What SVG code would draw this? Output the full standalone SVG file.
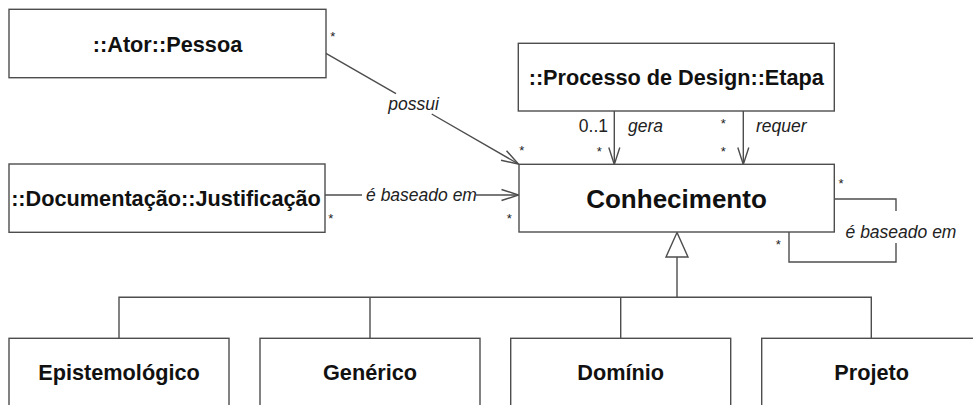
<svg xmlns="http://www.w3.org/2000/svg" width="973" height="405" viewBox="0 0 973 405">
  <style>
    .box { fill: #ffffff; stroke: #4d4d4d; stroke-width: 1.4; }
    .name { font-family: "Liberation Sans", Arial, sans-serif; font-weight: bold; font-size: 21.7px; fill: #111111; text-anchor: middle; }
    .big { font-size: 26px; }
    .edge { fill: none; stroke: #4d4d4d; stroke-width: 1.4; }
    .lbl { font-family: "Liberation Sans", Arial, sans-serif; font-style: italic; font-size: 17.5px; fill: #222222; }
    .mult { font-family: "Liberation Sans", Arial, sans-serif; font-size: 17.5px; fill: #222222; }
    .star { font-family: "Liberation Sans", Arial, sans-serif; font-size: 13px; fill: #222222; text-anchor: middle; }
  </style>
  <defs>
    <marker id="open" markerUnits="userSpaceOnUse" markerWidth="20" markerHeight="14" refX="0" refY="0" viewBox="-18 -7 20 14" orient="auto">
      <path d="M -17 -5.5 L 0 0 L -17 5.5" fill="none" stroke="#4d4d4d" stroke-width="1.4"/>
    </marker>
  </defs>

  <rect width="973" height="405" fill="#ffffff"/>

  <!-- associations and generalization -->
  <g id="connectors">
    <!-- possui -->
    <path class="edge" d="M326 53.3 L396 93.6 M431.7 114 L518.5 164" marker-end="url(#open)"/>
    <text class="lbl" x="413.5" y="110" text-anchor="middle">possui</text>
    <text class="star" x="332.7" y="40.5">*</text>
    <text class="star" x="521.7" y="155">*</text>

    <!-- é baseado em (Justificação) -->
    <path class="edge" d="M325 195 H362 M476 195 H518.5" marker-end="url(#open)"/>
    <text class="lbl" x="421.5" y="201" text-anchor="middle">é baseado em</text>
    <text class="star" x="330.7" y="222.5">*</text>
    <text class="star" x="509.3" y="222.5">*</text>

    <!-- gera -->
    <path class="edge" d="M614.3 111 V164.5" marker-end="url(#open)"/>
    <text class="mult" x="608" y="132" text-anchor="end">0..1</text>
    <text class="lbl" x="628" y="132">gera</text>
    <text class="star" x="599.3" y="156">*</text>

    <!-- requer -->
    <path class="edge" d="M743.3 111 V164.5" marker-end="url(#open)"/>
    <text class="lbl" x="756" y="132">requer</text>
    <text class="star" x="723.3" y="127.5">*</text>
    <text class="star" x="723.3" y="156">*</text>

    <!-- é baseado em (self) -->
    <path class="edge" d="M834 199 H896 V211 M896 243 V262 H789 V232"/>
    <text class="lbl" x="901" y="238" text-anchor="middle">é baseado em</text>
    <text class="star" x="841" y="187.5">*</text>
    <text class="star" x="778.3" y="248.5">*</text>

    <!-- generalization tree -->
    <path class="edge" d="M677 257 V297.3 M119 338 V297.3 H871.3 V338 M370 297.3 V338 M620.7 297.3 V338"/>
    <polygon points="677,232.5 666,257 688,257" fill="#ffffff" stroke="#4d4d4d" stroke-width="1.4"/>
  </g>

  <g id="pessoa">
    <rect class="box" x="9" y="9.3" width="317" height="68.4"/>
    <text class="name" x="167.5" y="51.5">::Ator::Pessoa</text>
  </g>

  <g id="etapa">
    <rect class="box" x="518.3" y="43.3" width="316" height="67.7"/>
    <text class="name" x="676.3" y="85">::Processo de Design::Etapa</text>
  </g>

  <g id="justificacao">
    <rect class="box" x="9" y="164" width="316" height="68.3"/>
    <text class="name" x="166" y="205.8">::Documentação::Justificação</text>
  </g>

  <g id="conhecimento">
    <rect class="box" x="519" y="164.3" width="315.3" height="67.7"/>
    <text class="name big" x="676.5" y="207.5">Conhecimento</text>
  </g>

  <g id="epistemologico">
    <rect class="box" x="9" y="338.3" width="220" height="68"/>
    <text class="name" x="119" y="380">Epistemológico</text>
  </g>

  <g id="generico">
    <rect class="box" x="260" y="338.3" width="220" height="68"/>
    <text class="name" x="370" y="380">Genérico</text>
  </g>

  <g id="dominio">
    <rect class="box" x="510.7" y="338.3" width="220" height="68"/>
    <text class="name" x="620.7" y="380">Domínio</text>
  </g>

  <g id="projeto">
    <rect class="box" x="761.7" y="338.3" width="220" height="68"/>
    <text class="name" x="871.7" y="380">Projeto</text>
  </g>
</svg>
